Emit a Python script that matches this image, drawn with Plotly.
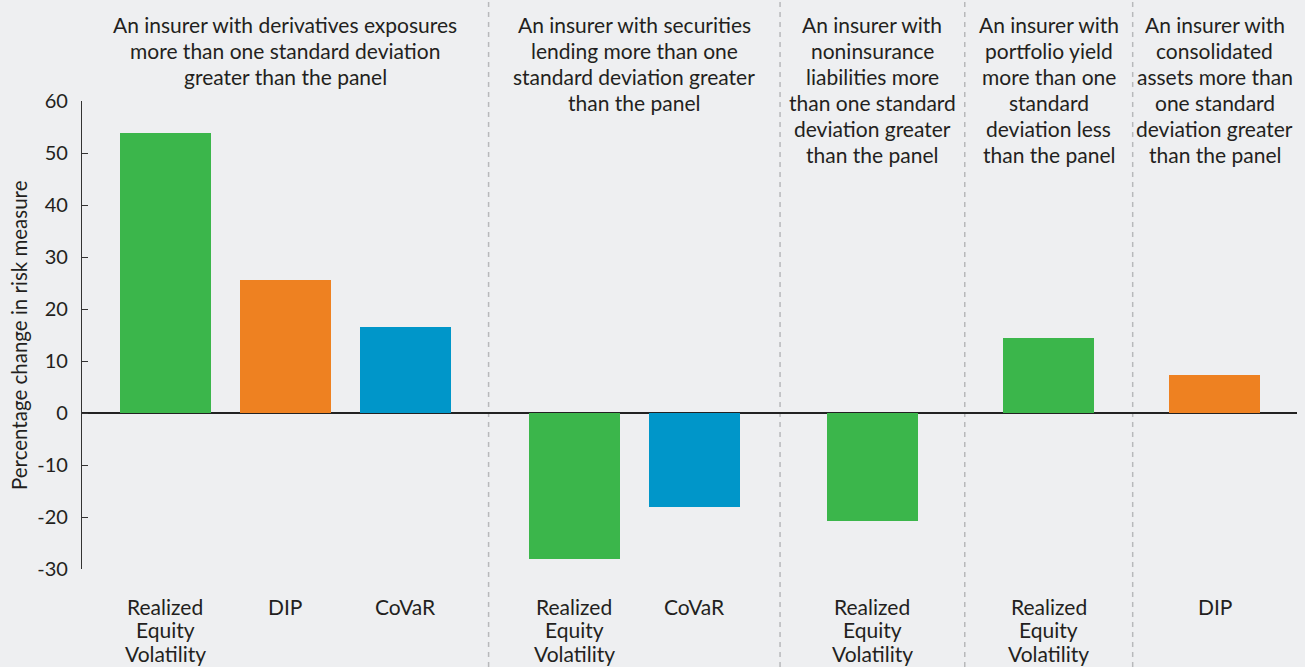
import plotly.graph_objects as go

# Panel headers, one per group of bars
headers = [
    ["An insurer with derivatives exposures", "more than one standard deviation", "greater than the panel"],
    ["An insurer with securities", "lending more than one", "standard deviation greater", "than the panel"],
    ["An insurer with", "noninsurance", "liabilities more", "than one standard", "deviation greater", "than the panel"],
    ["An insurer with", "portfolio yield", "more than one", "standard", "deviation less", "than the panel"],
    ["An insurer with", "consolidated", "assets more than", "one standard", "deviation greater", "than the panel"],
]

# Risk measures shown in each group
measures = [
    ["Realized Equity Volatility", "DIP", "CoVaR"],
    ["Realized Equity Volatility", "CoVaR"],
    ["Realized Equity Volatility"],
    ["Realized Equity Volatility"],
    ["DIP"],
]

# Percentage change in risk measure
values = [
    [53.8, 25.6, 16.6],
    [-28.0, -18.0],
    [-20.7],
    [14.5],
    [7.4],
]

y_ticks = [-30, -20, -10, 0, 10, 20, 30, 40, 50, 60]
y_ticktext = ["-30", "-20", "-10", "0", "10", "20", "30", "40", "50", "60"]

measure_colors = {
    "Realized Equity Volatility": "#3BB64B",
    "DIP": "#EE8121",
    "CoVaR": "#0096C9",
}
measure_label_lines = {
    "Realized Equity Volatility": ["Realized", "Equity", "Volatility"],
    "DIP": ["DIP"],
    "CoVaR": ["CoVaR"],
}

BG = "#EEEFF1"
TXT = "#231F20"
FONT = "Lato"

W, H = 1305, 667
ML, MR, MT, MB = 82, 8, 101, 98
plot_h = H - MT - MB
plot_w = W - ML - MR

# horizontal span of each group, in bar-slot units
group_span = [3.39, 2.43, 1.54, 1.40, 1.37]
bar_width = 0.76


def px_y(ypix):
    """page pixel row -> paper y"""
    return (H - MB - ypix) / plot_h


def px_x(xpix):
    """page pixel column -> paper x"""
    return (xpix - ML) / plot_w


xs, ys, cols, labels = [], [], [], []
group_bounds = []
start = 0.0
for cats, vals, span in zip(measures, values, group_span):
    offset = start + (span - len(cats)) / 2
    for i, (c, v) in enumerate(zip(cats, vals)):
        xs.append(offset + i + 0.5)
        ys.append(v)
        cols.append(measure_colors[c])
        labels.append(c)
    group_bounds.append((start, start + span))
    start += span
x_total = start

fig = go.Figure(
    go.Bar(
        x=xs,
        y=ys,
        marker=dict(color=cols, line=dict(width=0)),
        width=bar_width,
        hoverinfo="skip",
    )
)

shapes = []
annotations = []

# multi-line group headers
header_top, header_step = 25, 25.8
for gi, (g0, g1) in enumerate(group_bounds):
    for li, line in enumerate(headers[gi]):
        annotations.append(dict(
            x=(g0 + g1) / 2 / x_total, xref="paper",
            y=px_y(header_top + li * header_step), yref="paper",
            xanchor="center", yanchor="middle",
            text=line, showarrow=False,
            font=dict(family=FONT, size=21, color=TXT),
        ))
    # dashed divider between groups
    if gi < len(group_bounds) - 1:
        xp = g1 / x_total
        shapes.append(dict(
            type="line", xref="paper", yref="paper",
            x0=xp, x1=xp, y0=-MB / plot_h, y1=1 + MT / plot_h,
            line=dict(color="#B8B9BB", width=1.5, dash="5px,5px"),
            layer="below",
        ))

# category labels under each bar
label_top, label_step = 606, 23.5
for xc, lab in zip(xs, labels):
    for li, line in enumerate(measure_label_lines[lab]):
        annotations.append(dict(
            x=xc, xref="x",
            y=px_y(label_top + li * label_step), yref="paper",
            xanchor="center", yanchor="middle",
            text=line, showarrow=False,
            font=dict(family=FONT, size=21, color=TXT),
        ))

# y-axis title
annotations.append(dict(
    x=px_x(19), xref="paper", y=0.5, yref="paper",
    xanchor="center", yanchor="middle", textangle=-90,
    text="Percentage change in risk measure", showarrow=False,
    font=dict(family=FONT, size=20.5, color=TXT),
))

fig.update_layout(
    width=W, height=H,
    margin=dict(l=ML, r=MR, t=MT, b=MB, pad=0),
    paper_bgcolor=BG, plot_bgcolor=BG,
    showlegend=False,
    bargap=0,
    font=dict(family=FONT, size=20, color=TXT),
    shapes=shapes,
    annotations=annotations,
    xaxis=dict(
        range=[0, x_total],
        showticklabels=False,
        ticks="", showline=False, showgrid=False, zeroline=False,
        automargin=False, fixedrange=True,
    ),
    yaxis=dict(
        range=[-30, 60],
        tickvals=y_ticks, ticktext=y_ticktext,
        ticks="inside", ticklen=6, tickwidth=1.3, tickcolor="#333",
        showline=True, linecolor="#333", linewidth=1.3,
        showgrid=False,
        zeroline=True, zerolinecolor="#222", zerolinewidth=2,
        ticklabelstandoff=9,
        tickfont=dict(family=FONT, size=20, color=TXT),
        automargin=False, fixedrange=True,
    ),
)

fig.write_html("out.html")
